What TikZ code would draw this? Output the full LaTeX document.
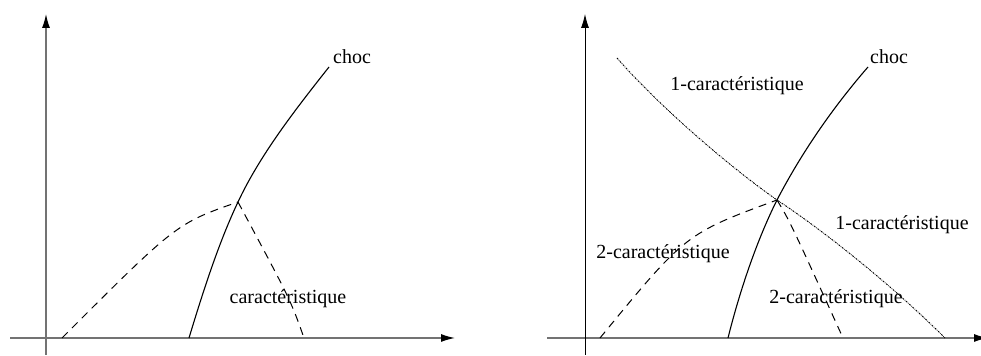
\documentclass[tikz,border=0pt]{standalone}
\usepackage{fontspec}
\setmainfont{Liberation Serif}
\usetikzlibrary{arrows.meta}
\begin{document}
\begin{tikzpicture}[x=0.5pt,y=-0.5pt,
  axisline/.style={draw=black!55,line width=0.65pt,-{Latex[length=7pt,width=4pt,black]}},
  axislineblack/.style={draw=black,line width=0.45pt,-{Latex[length=7pt,width=4pt,black]}},
  shock/.style={draw=black,line width=0.55pt},
  charline/.style={draw=black,line width=0.5pt,dash pattern=on 4pt off 3pt},
  dotline/.style={draw=black,line width=0.45pt,dash pattern=on 0.9pt off 0.5pt on 0.3pt off 0.5pt},
  lab/.style={font=\fontsize{10}{12}\selectfont,inner sep=0pt,text=black}]
\fill[white] (0,0) rectangle (981,356);
\useasboundingbox (0,0) rectangle (981,356);
\clip (0,0) rectangle (981,356);
% ---------- left panel ----------
\coordinate (LxS) at (10,338);  \coordinate (LxE) at (455,338);
\coordinate (LyS) at (46,355);  \coordinate (LyE) at (46,14);
\draw[axisline] (LxS) -- (LxE);
\draw[axisline] (LyS) -- (LyE);
\coordinate (LI) at (238,202);
\coordinate (Ls0) at (189,338); \coordinate (Ls1) at (329,67);
\coordinate (Lc0) at (62,338);  \coordinate (Lc1) at (304,338);
\draw[shock] (Ls0) .. controls (205,285) and (220,240) .. (LI)
                   .. controls (260,155) and (295,110) .. (Ls1);
\draw[charline] (Lc0) .. controls (176.5,223.5) .. (LI);
\draw[charline] (LI) .. controls (290.6,300) .. (Lc1);
\node[lab] (Lchoc) at (352,57) {choc};
\node[lab] (Lcar) at (288,299) {caractéristique};
% ---------- right panel ----------
\coordinate (RxS) at (547,338);  \coordinate (RxE) at (988,338);
\coordinate (RyS) at (585,355);  \coordinate (RyE) at (585,14);
\draw[axisline] (RxS) -- (RxE);
\draw[axislineblack] (RyS) -- (RyE);
\coordinate (RI) at (777,200);
\coordinate (Rs0) at (728,338); \coordinate (Rs1) at (868,67);
\coordinate (Rc0) at (600,338); \coordinate (Rc1) at (843,338);
\coordinate (Rd0) at (617,58);  \coordinate (Rd1) at (945,338);
\draw[shock] (Rs0) .. controls (740,290) and (757,240) .. (RI)
                   .. controls (803,150) and (835,105) .. (Rs1);
\draw[charline] (Rc0) .. controls (685.8,233.6) .. (RI);
\draw[charline] (RI) .. controls (790,221.5) .. (Rc1);
\draw[dotline] (Rd0) .. controls (657,104) and (727,165) .. (RI)
                     .. controls (827,233) and (895,288) .. (Rd1);
\node[lab] (Rchoc) at (889,57) {choc};
\node[lab] (R1top) at (737,86) {1-caractéristique};
\node[lab] (R1right) at (902,225) {1-caractéristique};
\node[lab] (R2left) at (663,254) {2-caractéristique};
\node[lab] (R2bot) at (836,299) {2-caractéristique};
\end{tikzpicture}
\end{document}
